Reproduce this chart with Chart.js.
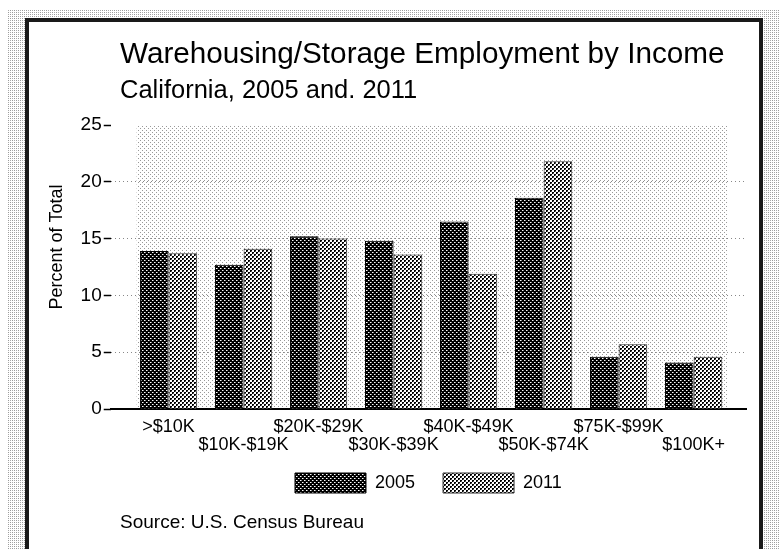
<!DOCTYPE html>
<html>
<head>
<meta charset="utf-8">
<script src="https://cdn.jsdelivr.net/npm/chart.js@4.4.1/dist/chart.umd.min.js"></script>
<style>
  html, body { margin: 0; padding: 0; background: #fff; }
  #wrap { position: relative; width: 780px; height: 549px; overflow: hidden; }
  canvas { display: block; }
</style>
</head>
<body>
<div id="wrap"><canvas id="c" width="780" height="549"></canvas></div>
<script>
// ---- data ----
const categories = ['>$10K', '$10K-$19K', '$20K-$29K', '$30K-$39K', '$40K-$49K', '$50K-$74K', '$75K-$99K', '$100K+'];
const values2005 = [13.9, 12.7, 15.2, 14.8, 16.5, 18.6, 4.6, 4.1];
const values2011 = [13.7, 14.1, 15.0, 13.6, 11.9, 21.8, 5.7, 4.6];
const seriesNames = ['2005', '2011'];
const yTicks = [0, 5, 10, 15, 20, 25];
const titleText = 'Warehousing/Storage Employment by Income';
const subtitleText = 'California, 2005 and. 2011';
const yAxisTitle = '        Percent of Total';
const sourceText = 'Source: U.S. Census Bureau';

const FONT = "'Liberation Sans', Arial, Helvetica, sans-serif";

function makePattern(size, bg, dots) {
  const c = document.createElement('canvas');
  c.width = size; c.height = size;
  const g = c.getContext('2d');
  g.fillStyle = bg; g.fillRect(0, 0, size, size);
  dots.forEach(d => { g.fillStyle = d[2]; g.fillRect(d[0], d[1], 1, 1); });
  return document.getElementById('c').getContext('2d').createPattern(c, 'repeat');
}

const pat2005 = makePattern(4, '#000', [[0,0,'#fff'],[2,2,'#fff'],[1,0,'#888'],[3,2,'#888']]);
const pat2011 = makePattern(4, '#fff', [[0,0,'#000'],[1,0,'#000'],[0,1,'#000'],[2,2,'#000'],[3,2,'#000'],[2,3,'#000'],[1,1,'#666'],[3,3,'#666']]);
const patPlot = makePattern(4, '#fff', [[0,0,'#999'],[2,2,'#999']]);
const patOuter = makePattern(4, '#fff', [[0,0,'#999'],[2,2,'#999'],[2,0,'#aaa'],[0,2,'#aaa']]);

const framePlugin = {
  id: 'frame',
  afterLayout(chart) {
    const lg = chart.legend;
    if (lg) { lg.top -= 18; lg.bottom -= 18; }
  },
  beforeDraw(chart) {
    const ctx = chart.ctx;
    ctx.save();
    ctx.fillStyle = '#fff';
    ctx.fillRect(0, 0, 780, 549);
    ctx.fillStyle = patOuter;
    ctx.fillRect(7, 9, 773, 540);
    ctx.fillStyle = '#fff';
    ctx.fillRect(27, 20, 734, 540);
    ctx.strokeStyle = '#1a1a1a';
    ctx.lineWidth = 4;
    ctx.strokeRect(27, 20, 734, 560);
    // shaded plot region
    const xs = chart.scales.x, ys = chart.scales.y;
    const l = xs.getPixelForValue(-0.425), r = xs.getPixelForValue(7.445);
    const t = ys.getPixelForValue(25), b = ys.getPixelForValue(0);
    ctx.fillStyle = patPlot;
    ctx.fillRect(l, t, r - l, b - t);
    ctx.restore();
  },
  afterDraw(chart) {
    const ctx = chart.ctx;
    ctx.save();
    ctx.fillStyle = '#000';
    ctx.textAlign = 'left';
    ctx.textBaseline = 'alphabetic';
    ctx.font = '29.7px ' + FONT;
    ctx.fillText(titleText, 120, 63);
    ctx.font = '25.5px ' + FONT;
    ctx.fillText(subtitleText, 120, 98);
    ctx.font = '19px ' + FONT;
    ctx.fillText(sourceText, 120, 528);
    ctx.restore();
  }
};

new Chart(document.getElementById('c'), {
  type: 'bar',
  data: {
    datasets: [
      {
        label: seriesNames[0],
        data: values2005.map((v, i) => ({ x: i, y: v })),
        backgroundColor: pat2005,
        borderColor: '#000',
        borderWidth: 1
      },
      {
        label: seriesNames[1],
        data: values2011.map((v, i) => ({ x: i, y: v })),
        backgroundColor: pat2011,
        borderColor: '#333',
        borderWidth: 1
      }
    ]
  },
  options: {
    responsive: false,
    devicePixelRatio: 1,
    animation: false,
    categoryPercentage: 0.763,
    barPercentage: 1.0,
    layout: { padding: { left: 36, right: 34, top: 125, bottom: 28 } },
    plugins: {
      title: { display: false },
      tooltip: { enabled: false },
      legend: {
        display: true,
        position: 'bottom',
        fullSize: false,
        align: 'center',
        labels: {
          boxWidth: 71,
          boxHeight: 20,
          padding: 28,
          color: '#000',
          font: { family: FONT, size: 18 }
        }
      }
    },
    scales: {
      x: {
        type: 'linear',
        offset: false,
        min: -0.771,
        max: 7.698,
        afterBuildTicks(scale) {
          scale.ticks = categories.map((c, i) => ({ value: i }));
        },
        grid: { display: false, drawTicks: false },
        border: { display: true, color: '#000', width: 2 },
        ticks: {
          autoSkip: false,
          maxRotation: 0,
          minRotation: 0,
          padding: 9,
          color: '#000',
          font: { family: FONT, size: 18, lineHeight: 1.0 },
          callback(value) {
            const i = Math.round(value);
            const name = categories[i];
            return i % 2 === 0 ? [name, ''] : ['', name];
          }
        }
      },
      y: {
        min: 0,
        max: 25,
        afterBuildTicks(scale) {
          scale.ticks = yTicks.map(v => ({ value: v }));
        },
        border: { display: false, dash: [1, 3] },
        grid: {
          color(ctx) {
            const v = ctx.tick ? ctx.tick.value : null;
            return (v === 0 || v === 25) ? 'rgba(0,0,0,0)' : '#888';
          },
          lineWidth: 1,
          drawTicks: true,
          tickLength: 7,
          tickColor: '#000',
          tickWidth: 1.5,
          tickBorderDash: []
        },
        ticks: {
          padding: 2,
          color: '#000',
          font: { family: FONT, size: 19 }
        },
        title: {
          display: true,
          text: yAxisTitle,
          color: '#000',
          font: { family: FONT, size: 18 },
          padding: { top: 10, bottom: 11 }
        }
      }
    }
  },
  plugins: [framePlugin]
});
</script>
</body>
</html>
